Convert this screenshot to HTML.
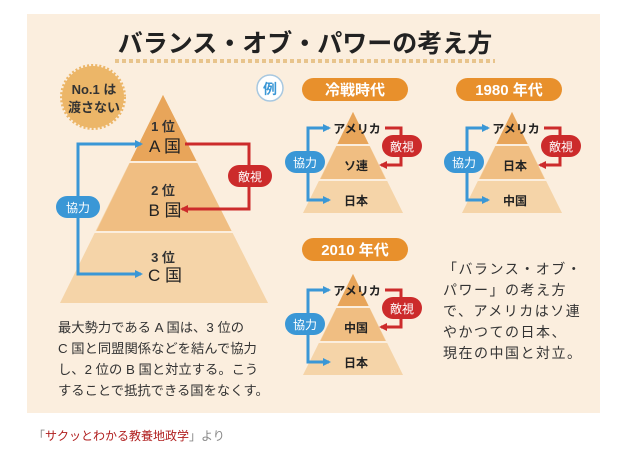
<!DOCTYPE html>
<html><head><meta charset="utf-8"><style>
html,body{margin:0;padding:0;background:#fff;width:636px;height:454px;overflow:hidden}
svg{display:block}
text{font-family:"Liberation Sans","Noto Sans CJK JP",sans-serif}
</style></head><body>
<svg width="636" height="454" viewBox="0 0 636 454" xmlns="http://www.w3.org/2000/svg">
<defs>
<marker id="ab" markerWidth="8" markerHeight="8" refX="6" refY="4" orient="auto" markerUnits="userSpaceOnUse"><path d="M0,0 L8,4 L0,8 z" fill="#3a97d6"/></marker>
<marker id="ar" markerWidth="8" markerHeight="8" refX="6" refY="4" orient="auto" markerUnits="userSpaceOnUse"><path d="M0,0 L8,4 L0,8 z" fill="#cc2b2b"/></marker>
<g id="small">
  <polygon points="0,0 -50,101 50,101" fill="#f5d4a8"/>
  <polygon points="0,0 -33,68 33,68" fill="#f0be82"/>
  <polygon points="0,0 -16,33 16,33" fill="#e8a55a"/>
  <line x1="-34" y1="33" x2="34" y2="33" stroke="#fbeede" stroke-width="2"/>
  <line x1="-51" y1="68" x2="51" y2="68" stroke="#fbeede" stroke-width="2"/>
  <polyline points="-24,16 -45,16 -45,88 -24,88" fill="none" stroke="#3a97d6" stroke-width="3"/>
  <line x1="-45" y1="16" x2="-24" y2="16" stroke="#3a97d6" stroke-width="3" marker-end="url(#ab)"/>
  <line x1="-45" y1="88" x2="-24" y2="88" stroke="#3a97d6" stroke-width="3" marker-end="url(#ab)"/>
  <rect x="-68" y="39" width="40" height="22" rx="11" fill="#3a97d6"/>
  <text x="-48" y="55" font-size="12" fill="#fff" text-anchor="middle">協力</text>
  <polyline points="32,16 48,16 48,53 30,53" fill="none" stroke="#cc2b2b" stroke-width="3"/>
  <line x1="48" y1="53" x2="28" y2="53" stroke="#cc2b2b" stroke-width="3" marker-end="url(#ar)"/>
  <rect x="29" y="23" width="40" height="22" rx="11" fill="#cc2b2b"/>
  <text x="49" y="39" font-size="12" fill="#fff" text-anchor="middle">敵視</text>
</g>
</defs>
<rect x="27" y="14" width="573" height="399" fill="#fbeede"/>
<text x="305" y="52" font-size="25" font-weight="bold" fill="#222" text-anchor="middle">バランス・オブ・パワーの考え方</text>
<line x1="115" y1="61" x2="495" y2="61" stroke="#e8c48c" stroke-width="4" stroke-dasharray="4,3"/>
<circle cx="93" cy="97" r="31" fill="#ecb668" stroke="#ecb668" stroke-width="4" stroke-dasharray="2,2"/>
<text x="94" y="94" font-size="13" font-weight="bold" fill="#333" text-anchor="middle">No.1 は</text>
<text x="94" y="112" font-size="13" font-weight="bold" fill="#333" text-anchor="middle">渡さない</text>
<polygon points="163,95 60,303 268,303" fill="#f5d4a8"/>
<polygon points="163,95 96,232 232,232" fill="#f0be82"/>
<polygon points="163,95 130,162 197,162" fill="#e8a55a"/>
<line x1="96" y1="162" x2="232" y2="162" stroke="#fbeede" stroke-width="2"/>
<line x1="60" y1="232" x2="268" y2="232" stroke="#fbeede" stroke-width="2"/>
<text x="163" y="131" font-size="13" font-weight="bold" fill="#333" text-anchor="middle">1 位</text>
<text x="165" y="152" font-size="17" fill="#222" text-anchor="middle">A 国</text>
<text x="163" y="195" font-size="13" font-weight="bold" fill="#333" text-anchor="middle">2 位</text>
<text x="165" y="216" font-size="17" fill="#222" text-anchor="middle">B 国</text>
<text x="163" y="262" font-size="13" font-weight="bold" fill="#333" text-anchor="middle">3 位</text>
<text x="165" y="281" font-size="17" fill="#222" text-anchor="middle">C 国</text>
<polyline points="140,144 78,144 78,274 140,274" fill="none" stroke="#3a97d6" stroke-width="3"/>
<line x1="100" y1="144" x2="141" y2="144" stroke="#3a97d6" stroke-width="3" marker-end="url(#ab)"/>
<line x1="100" y1="274" x2="141" y2="274" stroke="#3a97d6" stroke-width="3" marker-end="url(#ab)"/>
<rect x="56" y="196" width="44" height="22" rx="11" fill="#3a97d6"/>
<text x="78" y="212" font-size="12" fill="#fff" text-anchor="middle">協力</text>
<polyline points="185,144 249,144 249,209 184,209" fill="none" stroke="#cc2b2b" stroke-width="3"/>
<line x1="220" y1="209" x2="182" y2="209" stroke="#cc2b2b" stroke-width="3" marker-end="url(#ar)"/>
<rect x="228" y="165" width="44" height="22" rx="11" fill="#cc2b2b"/>
<text x="250" y="181" font-size="12" fill="#fff" text-anchor="middle">敵視</text>
<circle cx="270" cy="88" r="13" fill="#fff" stroke="#a8c8e0" stroke-width="1.5"/>
<text x="270" y="94" font-size="14" font-weight="bold" fill="#3a97d6" text-anchor="middle">例</text>
<rect x="302" y="78" width="106" height="23" rx="11.5" fill="#e8902c"/>
<text x="355" y="95" font-size="15" fill="#fff" text-anchor="middle" font-weight="bold">冷戦時代</text>
<rect x="456" y="78" width="106" height="23" rx="11.5" fill="#e8902c"/>
<text x="509" y="95" font-size="15" fill="#fff" text-anchor="middle" font-weight="bold">1980 年代</text>
<rect x="302" y="238" width="106" height="23" rx="11.5" fill="#e8902c"/>
<text x="355" y="255" font-size="15" fill="#fff" text-anchor="middle" font-weight="bold">2010 年代</text>
<use href="#small" x="353" y="112"/>
<use href="#small" x="512" y="112"/>
<use href="#small" x="353" y="274"/>
<g font-size="12" font-weight="bold" fill="#222" text-anchor="middle">
<text x="357" y="133">アメリカ</text><text x="356" y="170">ソ連</text><text x="356" y="205">日本</text>
<text x="516" y="133">アメリカ</text><text x="515" y="170">日本</text><text x="515" y="205">中国</text>
<text x="357" y="295">アメリカ</text><text x="356" y="332">中国</text><text x="356" y="367">日本</text>
</g>
<g font-size="13.3" fill="#333">
<text x="58" y="332">最大勢力である A 国は、3 位の</text>
<text x="58" y="353">C 国と同盟関係などを結んで協力</text>
<text x="58" y="374">し、2 位の B 国と対立する。こう</text>
<text x="58" y="395">することで抵抗できる国をなくす。</text>
</g>
<g font-size="14" fill="#333">
<text x="443" y="274" letter-spacing="1.5">「バランス・オブ・</text>
<text x="443" y="295" letter-spacing="1.5">パワー」の考え方</text>
<text x="443" y="316" letter-spacing="1.5">で、アメリカはソ連</text>
<text x="443" y="337" letter-spacing="1.5">やかつての日本、</text>
<text x="443" y="358" letter-spacing="1.5">現在の中国と対立。</text>
</g>
<text x="33" y="440" font-size="12" fill="#888">「<tspan fill="#b01e1e">サクッとわかる教養地政学</tspan>」より</text>
</svg>
</body></html>
